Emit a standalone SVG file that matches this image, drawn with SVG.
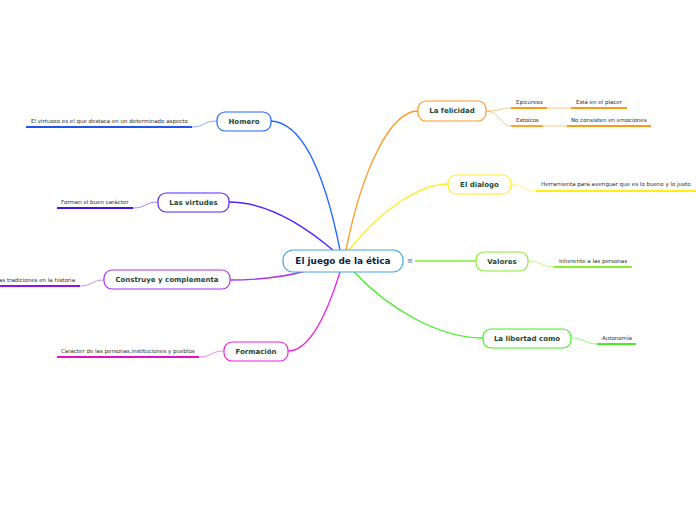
<svg xmlns="http://www.w3.org/2000/svg" width="696" height="520" viewBox="0 0 696 520">
<style>
.node rect{fill:#fff;stroke-width:1.2}
.nt{font-family:"DejaVu Sans",Verdana,sans-serif;font-weight:bold;font-size:7px;fill:#1b4a3c;text-anchor:middle;dominant-baseline:central}
.lt{font-family:"DejaVu Sans",Verdana,sans-serif;font-size:5.5px;fill:#2a2a2a}
.c{fill:none;stroke-width:1.3}
.s{fill:none;stroke-width:1;opacity:.55}
.u{fill:none;stroke-width:1.8}
</style>
<rect width="696" height="520" fill="#fff"/>
<g id="connectors">
<path class="c" stroke="#2266ff" d="M340,250 C330,200 310,123 271,121"/>
<path class="c" stroke="#5522ff" d="M334,251 C300,222 265,202 229,202"/>
<path class="c" stroke="#aa33ee" d="M306,271 C280,278 255,280 230,280"/>
<path class="c" stroke="#ee22dd" d="M340,272 C322,330 305,351 288,351"/>
<path class="c" stroke="#ff9922" d="M346,250 C362,170 390,111 418,111"/>
<path class="c" stroke="#ffee22" d="M349,250 C380,210 420,184 448,184"/>
<path class="c" stroke="#88ee33" d="M415,261 L476,261"/>
<path class="c" stroke="#44ee22" d="M354,272 C390,310 440,338 483,338"/>
<path class="s" stroke="#2266ff" d="M217,121 C202,121 205,127 192,127"/>
<path class="s" stroke="#5522ff" d="M158,202 C145,202 146,208 133,208"/>
<path class="s" stroke="#aa33ee" d="M104,280 C92,280 92,286 80,286"/>
<path class="s" stroke="#ee22dd" d="M224,351 C211,351 212,357 199,357"/>
<path class="s" stroke="#ff9922" d="M486,111 C500,111 500,108 511,108"/>
<path class="s" stroke="#ff9922" d="M486,111 C500,111 500,126 511,126"/>
<path class="s" stroke="#ff9922" d="M547,108 L571,108"/>
<path class="s" stroke="#ff9922" d="M543,126 L567,126"/>
<path class="s" stroke="#ffee22" d="M511,184 C524,184 524,191 536,191"/>
<path class="s" stroke="#88ee33" d="M528,261 C541,261 541,267 554,267"/>
<path class="s" stroke="#44ee22" d="M571,338 C585,338 585,344 597,344"/>
</g>
<g id="center" class="node">
<rect x="283" y="250" width="120" height="22" rx="10" stroke="#4aa3df"/>
<text x="343" y="261" style="font-family:'DejaVu Sans',Verdana,sans-serif;font-weight:bold;font-size:8.9px;fill:#0d1f3f;text-anchor:middle;dominant-baseline:central">El juego de la ética</text>
<text x="410" y="261" style="font-family:'DejaVu Sans',sans-serif;font-size:7px;fill:#4a6a9a;text-anchor:middle;dominant-baseline:central">≡</text>
</g>
<g id="homero" class="node">
<rect x="217" y="112" width="54" height="19" rx="8" stroke="#2266ff"/>
<text class="nt" x="244" y="121.5">Homero</text>
</g>
<g id="homero-leaf">
<text class="lt" x="31" y="123">El virtuoso es el que destaca en un determinado aspecto</text>
<path class="u" stroke="#2255ee" d="M26,127 L192,127"/>
</g>
<g id="virtudes" class="node">
<rect x="158" y="193" width="71" height="19" rx="8" stroke="#5522ff"/>
<text class="nt" x="193.5" y="202.5">Las virtudes</text>
</g>
<g id="virtudes-leaf">
<text class="lt" x="61" y="204">Forman el buen carácter</text>
<path class="u" stroke="#4411ee" d="M57,208 L133,208"/>
</g>
<g id="construye" class="node">
<rect x="104" y="270" width="126" height="19" rx="8" stroke="#aa33ee"/>
<text class="nt" x="167" y="279.5">Construye y complementa</text>
</g>
<g id="construye-leaf">
<text class="lt" x="-1" y="282">as tradiciones en la historia</text>
<path class="u" stroke="#9911dd" d="M0,286 L80,286"/>
</g>
<g id="formacion" class="node">
<rect x="224" y="342" width="64" height="19" rx="8" stroke="#ee22dd"/>
<text class="nt" x="256" y="351.5">Formación</text>
</g>
<g id="formacion-leaf">
<text class="lt" x="61" y="353">Carácter de las personas,instituciones y pueblos</text>
<path class="u" stroke="#dd11cc" d="M57,357 L199,357"/>
</g>
<g id="felicidad" class="node">
<rect x="418" y="101" width="68" height="20" rx="8" stroke="#ff9922"/>
<text class="nt" x="452" y="111">La felicidad</text>
</g>
<g id="felicidad-leaves">
<text class="lt" x="516" y="104">Epicúreos</text>
<path class="u" stroke="#ff9911" d="M511,108 L547,108"/>
<text class="lt" x="576" y="104">Está en el placer</text>
<path class="u" stroke="#ff9911" d="M571,108 L627,108"/>
<text class="lt" x="516" y="122">Estoicos</text>
<path class="u" stroke="#ff9911" d="M511,126 L543,126"/>
<text class="lt" x="571" y="122">No consisten en emociones</text>
<path class="u" stroke="#ff9911" d="M567,126 L651,126"/>
</g>
<g id="dialogo" class="node">
<rect x="448" y="175" width="63" height="19" rx="8" stroke="#ffee22"/>
<text class="nt" x="479.5" y="184.5">El dialogo</text>
</g>
<g id="dialogo-leaf">
<text class="lt" x="541" y="186">Herramienta para averiguar que es lo bueno y lo justo</text>
<path class="u" stroke="#ffee11" d="M536,191 L696,191"/>
</g>
<g id="valores" class="node">
<rect x="476" y="252" width="52" height="19" rx="8" stroke="#88ee33"/>
<text class="nt" x="502" y="261.5">Valores</text>
</g>
<g id="valores-leaf">
<text class="lt" x="559" y="263">Inherente a las personas</text>
<path class="u" stroke="#88ee33" d="M554,267 L632,267"/>
</g>
<g id="libertad" class="node">
<rect x="483" y="329" width="88" height="19" rx="8" stroke="#44ee22"/>
<text class="nt" x="527" y="338.5">La libertad como</text>
</g>
<g id="libertad-leaf">
<text class="lt" x="602" y="340">Autonomía</text>
<path class="u" stroke="#44ee22" d="M597,344 L636,344"/>
</g>
</svg>
